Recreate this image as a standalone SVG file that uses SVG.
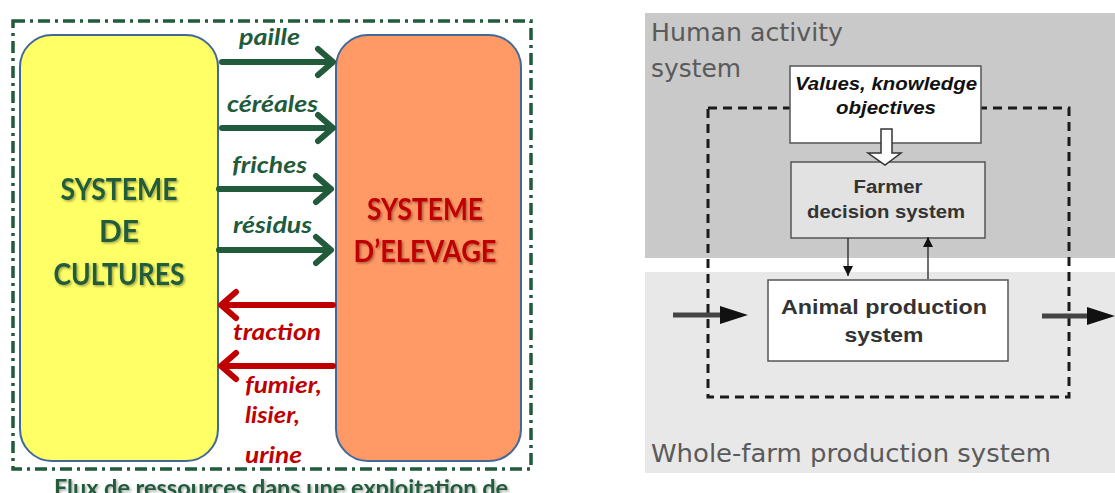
<svg xmlns="http://www.w3.org/2000/svg" width="1115" height="493" viewBox="0 0 1115 493">
<style>
.lbl{font-family:Lato,"Liberation Sans",sans-serif;font-weight:bold;font-style:italic;font-size:23px}
.g{fill:#215b3c}
.r{fill:#c00000}
.big{font-family:Lato,"Liberation Sans",sans-serif;font-weight:bold;font-size:30px;text-anchor:middle}
.ga{stroke:#215b3c;stroke-width:6;fill:none;stroke-linecap:round;stroke-linejoin:round}
.ra{stroke:#c00000;stroke-width:6;fill:none;stroke-linecap:round;stroke-linejoin:round}
.box{stroke:#555;stroke-width:1.5}
.rt{font-family:"Liberation Sans",Arial,sans-serif;font-weight:bold;fill:#333;text-anchor:middle}
.vt{font-family:"Liberation Sans",Arial,sans-serif;font-weight:bold;font-style:italic;fill:#111;text-anchor:middle;font-size:18px}
.ht{font-family:"DejaVu Sans",Verdana,sans-serif;font-size:25px;fill:#5a5a5a}
</style>
<defs>
<filter id="sh" x="-10%" y="-10%" width="130%" height="140%">
<feDropShadow dx="1.5" dy="1.5" stdDeviation="1" flood-color="#000" flood-opacity="0.35"/>
</filter>
<marker id="tri" viewBox="0 0 10 10" refX="10" refY="5" markerWidth="10" markerHeight="14" markerUnits="userSpaceOnUse" orient="auto">
<path d="M0,0 L10,5 L0,10 Z" fill="#111"/>
</marker>
</defs>
<rect width="1115" height="493" fill="#fff"/>

<!-- LEFT PANEL -->
<rect id="frame" x="13" y="21" width="518" height="448" fill="none" stroke="#215b3c" stroke-width="3.5" stroke-dasharray="12 5 3 5"/>
<g id="cultures">
<rect x="20" y="35" width="198" height="426" rx="32" ry="32" fill="#ffff66" stroke="#41689b" stroke-width="2"/>
<g class="big g" filter="url(#sh)">
<text x="119" y="200" textLength="117" lengthAdjust="spacingAndGlyphs">SYSTEME</text>
<text x="119" y="242">DE</text>
<text x="119" y="285" textLength="131" lengthAdjust="spacingAndGlyphs">CULTURES</text>
</g>
</g>
<g id="elevage">
<rect x="336" y="35" width="185" height="426" rx="32" ry="32" fill="#ff9966" stroke="#41689b" stroke-width="2"/>
<g class="big r" filter="url(#sh)">
<text x="425" y="220" textLength="116" lengthAdjust="spacingAndGlyphs">SYSTEME</text>
<text x="425" y="262" textLength="143" lengthAdjust="spacingAndGlyphs">D’ELEVAGE</text>
</g>
</g>
<g id="flows">
<path class="ga" d="M222,62 H332 M318,49 L333,62 L318,75"/>
<path class="ga" d="M222,128 H332 M318,115 L333,128 L318,141"/>
<path class="ga" d="M219,189 H330 M316,176 L331,189 L316,202"/>
<path class="ga" d="M219,250 H330 M316,237 L331,250 L316,263"/>
<path class="ra" d="M333,305 H222 M236,292 L221,305 L236,318"/>
<path class="ra" d="M333,366 H222 M236,353 L221,366 L236,379"/>
<text class="lbl g" x="239" y="45" textLength="61" lengthAdjust="spacingAndGlyphs">paille</text>
<text class="lbl g" x="227" y="112" textLength="91" lengthAdjust="spacingAndGlyphs">céréales</text>
<text class="lbl g" x="232" y="173" textLength="75" lengthAdjust="spacingAndGlyphs">friches</text>
<text class="lbl g" x="233" y="233" textLength="79" lengthAdjust="spacingAndGlyphs">résidus</text>
<text class="lbl r" x="233" y="340" textLength="88" lengthAdjust="spacingAndGlyphs">traction</text>
<text class="lbl r" x="245" y="393" textLength="77" lengthAdjust="spacingAndGlyphs">fumier,</text>
<text class="lbl r" x="245" y="423" textLength="55" lengthAdjust="spacingAndGlyphs">lisier,</text>
<text class="lbl r" x="245" y="463" textLength="57" lengthAdjust="spacingAndGlyphs">urine</text>
</g>
<text id="caption" x="54" y="496" font-family="Lato,'Liberation Sans',sans-serif" font-weight="bold" font-size="22" fill="#215b3c" filter="url(#sh)" textLength="454" lengthAdjust="spacingAndGlyphs">Flux de ressources dans une exploitation de</text>

<!-- RIGHT PANEL -->
<rect x="645" y="13" width="470" height="245" fill="#c9c9c9"/>
<rect x="645" y="272" width="470" height="201" fill="#e8e8e8"/>
<text class="ht" x="651" y="41" textLength="192" lengthAdjust="spacingAndGlyphs">Human activity</text>
<text class="ht" x="651" y="77" textLength="90" lengthAdjust="spacingAndGlyphs">system</text>
<text class="ht" x="651" y="462" textLength="400" lengthAdjust="spacingAndGlyphs">Whole-farm production system</text>

<rect id="boundary" x="708" y="108" width="361" height="289" fill="none" stroke="#1a1a1a" stroke-width="3" stroke-dasharray="9 6"/>

<g id="values">
<rect class="box" x="790" y="66" width="191" height="77" fill="#fff"/>
<text class="vt" x="886" y="90" textLength="182" lengthAdjust="spacingAndGlyphs">Values, knowledge</text>
<text class="vt" x="886" y="114" textLength="100" lengthAdjust="spacingAndGlyphs">objectives</text>
</g>
<g id="farmer">
<rect class="box" x="791" y="162" width="194" height="76" fill="#e2e2e2"/>
<text class="rt" x="888" y="193" font-size="18" textLength="69" lengthAdjust="spacingAndGlyphs">Farmer</text>
<text class="rt" x="886" y="218" font-size="18" textLength="158" lengthAdjust="spacingAndGlyphs">decision system</text>
</g>
<g id="animal">
<rect class="box" x="768" y="280" width="240" height="81" fill="#fff"/>
<text class="rt" x="884" y="314" font-size="21" textLength="206" lengthAdjust="spacingAndGlyphs">Animal production</text>
<text class="rt" x="884" y="342" font-size="21" textLength="79" lengthAdjust="spacingAndGlyphs">system</text>
</g>
<g id="connectors">
<polygon points="881,129 892,129 892,153 901,153 885,165 868,153 881,153" fill="#fff" stroke="#333" stroke-width="1.5"/>
<line x1="848" y1="238" x2="848" y2="276" stroke="#222" stroke-width="1.3" marker-end="url(#tri)"/>
<line x1="928" y1="279" x2="928" y2="237" stroke="#222" stroke-width="1.3" marker-end="url(#tri)"/>
<line x1="673" y1="315" x2="722" y2="315" stroke="#444" stroke-width="5"/>
<polygon points="720,306 748,315 720,324" fill="#111"/>
<line x1="1042" y1="316" x2="1089" y2="316" stroke="#444" stroke-width="5"/>
<polygon points="1087,307 1115,316 1087,325" fill="#111"/>
</g>
</svg>
